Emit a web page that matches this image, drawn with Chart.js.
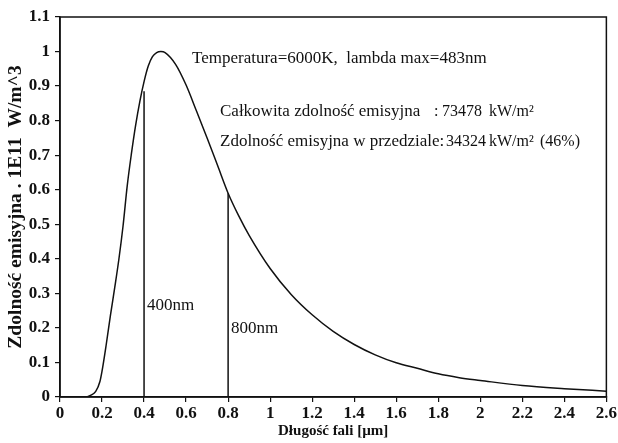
<!DOCTYPE html>
<html><head><meta charset="utf-8">
<script src="https://cdn.jsdelivr.net/npm/chart.js@4"></script>
<style>html,body{margin:0;padding:0;background:#fff}</style>
</head><body>
<canvas id="c" width="618" height="443"></canvas>
<script>
// ---- data ----
const wavelength = [0, 0.1, 0.13, 0.15, 0.17, 0.19, 0.2, 0.22, 0.24, 0.26, 0.28, 0.3, 0.32, 0.34, 0.36, 0.38, 0.4, 0.42, 0.44, 0.46, 0.48, 0.5, 0.55, 0.6, 0.65, 0.7, 0.75, 0.8, 0.85, 0.9, 1.0, 1.1, 1.2, 1.3, 1.4, 1.5, 1.6, 1.7, 1.8, 1.9, 2.0, 2.2, 2.4, 2.6];
const emission   = [0, 0, 0.001, 0.006, 0.016, 0.045, 0.075, 0.152, 0.236, 0.315, 0.398, 0.495, 0.612, 0.705, 0.787, 0.856, 0.913, 0.958, 0.985, 0.997, 1.0, 0.997, 0.963, 0.903, 0.827, 0.75, 0.67, 0.59, 0.525, 0.468, 0.372, 0.297, 0.238, 0.19, 0.152, 0.122, 0.099, 0.083, 0.067, 0.056, 0.048, 0.033, 0.024, 0.017];
const markerWavelength = [0.4, 0.8];
const markerTop = [0.885, 0.59];
const markerLabels = ['400nm', '800nm'];
const xTickValues = [0, 0.2, 0.4, 0.6, 0.8, 1, 1.2, 1.4, 1.6, 1.8, 2, 2.2, 2.4, 2.6];
const xTickLabels = ['0', '0.2', '0.4', '0.6', '0.8', '1', '1.2', '1.4', '1.6', '1.8', '2', '2.2', '2.4', '2.6'];
const yTickValues = [0, 0.1, 0.2, 0.3, 0.4, 0.5, 0.6, 0.7, 0.8, 0.9, 1, 1.1];
const yTickLabels = ['0', '0.1', '0.2', '0.3', '0.4', '0.5', '0.6', '0.7', '0.8', '0.9', '1', '1.1'];
const xTitle = 'Długość fali [µm]';
const yTitle = 'Zdolność emisyjna . 1E11  W/m^3';
const headerText = 'Temperatura=6000K,  lambda max=483nm';
const totalLabel = 'Całkowita zdolność emisyjna';
const totalValue = '73478';
const bandLabel = 'Zdolność emisyjna w przedziale:';
const bandValue = '34324';
const unitText = 'kW/m²';
const bandPercent = '(46%)';

const SERIF = '"Liberation Serif", "Times New Roman", serif';

const datasets = [{
  data: wavelength.map((x, i) => ({x, y: emission[i]})),
  showLine: true, pointRadius: 0, borderColor: '#111', borderWidth: 1.5,
  cubicInterpolationMode: 'monotone', fill: false
}];
markerWavelength.forEach((w, i) => {
  datasets.push({
    data: [{x: w, y: 0}, {x: w, y: markerTop[i]}],
    showLine: true, pointRadius: 0, borderColor: '#111', borderWidth: 1.5, fill: false
  });
});

const decor = {
  id: 'decor',
  afterDraw(chart) {
    const {ctx, chartArea: a, scales: {x, y}} = chart;
    ctx.save();
    ctx.strokeStyle = '#111';
    ctx.lineWidth = 1.5;
    ctx.strokeRect(a.left, a.top, a.right - a.left, a.bottom - a.top);
    ctx.fillStyle = '#111';
    ctx.textBaseline = 'middle';
    ctx.textAlign = 'left';
    ctx.font = '17px ' + SERIF;
    ctx.fillText(headerText, 192, 59);
    ctx.fillText(totalLabel, 220, 112);
    ctx.fillText(bandLabel, 220, 142);
    ctx.font = '16px ' + SERIF;
    ctx.fillText(':', 434, 112);
    ctx.fillText(totalValue, 442, 112);
    ctx.fillText(bandValue, 446, 142);
    ctx.fillText(unitText, 489, 112);
    ctx.fillText(unitText, 489, 142);
    ctx.fillText(bandPercent, 540, 142);
    ctx.font = '17px ' + SERIF;
    const labelY = [306, 329];
    markerLabels.forEach((t, i) => {
      ctx.fillText(t, x.getPixelForValue(markerWavelength[i]) + 3, labelY[i]);
    });
    ctx.restore();
  }
};

new Chart(document.getElementById('c'), {
  type: 'scatter',
  data: {datasets},
  plugins: [decor],
  options: {
    responsive: false, animation: false, devicePixelRatio: 1,
    layout: {padding: {top: 17, right: 11, left: 0, bottom: 0}},
    plugins: {legend: {display: false}, tooltip: {enabled: false}},
    scales: {
      x: {
        type: 'linear', min: 0, max: 2.6,
        afterFit(s) { s.height = 46; },
        afterBuildTicks(s) { s.ticks = xTickValues.map(v => ({value: v})); },
        grid: {display: true, drawOnChartArea: false, drawTicks: true, tickLength: 5, color: '#111', lineWidth: 1.2},
        border: {display: true, color: '#111', width: 1.5},
        ticks: {color: '#111', padding: 1, maxRotation: 0, autoSkip: false,
          font: {family: SERIF, size: 17, weight: 'bold'},
          callback: (v, i) => xTickLabels[i]},
        title: {display: true, text: xTitle, color: '#111', padding: {top: 0, bottom: 3},
          font: {family: SERIF, size: 15, weight: 'bold'}}
      },
      y: {
        type: 'linear', min: 0, max: 1.1,
        afterFit(s) { s.width = 60; },
        afterBuildTicks(s) { s.ticks = yTickValues.map(v => ({value: v})); },
        grid: {display: true, drawOnChartArea: false, drawTicks: true, tickLength: 5, color: '#111', lineWidth: 1.2},
        border: {display: true, color: '#111', width: 1.5},
        ticks: {color: '#111', padding: 5, autoSkip: false,
          font: {family: SERIF, size: 17, weight: 'bold'},
          callback: (v, i) => yTickLabels[i]},
        title: {display: true, text: yTitle, color: '#111', padding: {top: 4, bottom: 0},
          font: {family: SERIF, size: 19.5, weight: 'bold'}}
      }
    }
  }
});
</script>
</body></html>
